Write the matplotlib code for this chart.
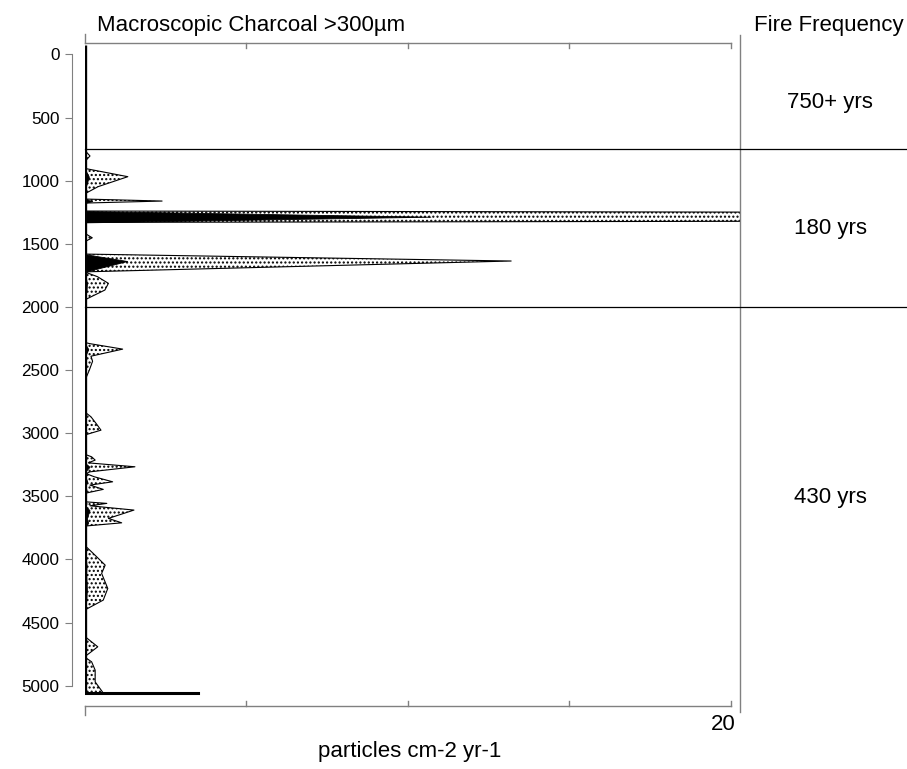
import numpy as np
import matplotlib.pyplot as plt
from matplotlib.transforms import blended_transform_factory

plt.rcParams['font.family'] = ['Liberation Sans', 'DejaVu Sans']

# sample depths (yr) and charcoal influx (particles cm-2 yr-1)
depth = [0, 757, 804, 851, 902, 968, 1047, 1105, 1145, 1161, 1177, 1240, 1285, 1330,
         1415, 1452, 1484, 1581, 1636, 1722, 1760, 1813, 1866, 1945,
         2280, 2290, 2334, 2390, 2430, 2500, 2590, 2830, 2870, 2930, 2976, 3015,
         3166, 3187, 3213, 3235, 3266, 3306, 3320, 3345, 3385, 3411, 3445, 3477,
         3543, 3556, 3575, 3609, 3675, 3710, 3736, 3887, 3950, 4045, 4111, 4230,
         4322, 4402, 4608, 4692, 4772, 4811, 4877, 4970, 5058]
charcoal = [0, 0, 0.017, 0, 0, 0.134, 0.042, 0, 0, 0.24, 0, 0, 10.7, 0,
            0, 0.024, 0, 0, 1.32, 0, 0.04, 0.074, 0.063, 0,
            0, 0.015, 0.118, 0.02, 0.025, 0.015, 0, 0, 0.02, 0.038, 0.051, 0,
            0, 0.022, 0.033, 0.012, 0.156, 0.017, 0.005, 0.03, 0.087, 0.017, 0.058, 0,
            0, 0.069, 0.017, 0.153, 0.074, 0.115, 0, 0, 0.026, 0.064, 0.053, 0.072,
            0.058, 0, 0, 0.041, 0, 0.022, 0.033, 0.033, 0.058]
base_depth = 5058
base_value = 3.5
exag = 10

zone_bounds = [750, 2000]
zone_labels = ["750+ yrs", "180 yrs", "430 yrs"]
zone_label_depths = [384, 1375, 3506]

x_ticks = [0, 5, 10, 15, 20]
y_ticks = list(range(0, 5001, 500))

grey = '#808080'
big = 16

fig = plt.figure(figsize=(9.07, 7.69), dpi=100)
ax = fig.add_axes([84.5 / 907, 63 / 769, (740 - 84.5) / 907, 663 / 769])
ax.set_xlim(0, 20.28)
ax.set_ylim(5161, -91)

d = np.array(depth)
v = np.array(charcoal)
ax.fill_betweenx(d, 0, v * exag, facecolor='white', edgecolor='black',
                 hatch='....', lw=0.8)
ax.fill_betweenx(d, 0, v, facecolor='black', edgecolor='black', lw=0.6)
ax.plot([0, base_value], [base_depth, base_depth], color='black', lw=2.2)
ax.plot([0, 0], [-75, base_depth], color='black', lw=2.4, solid_capstyle='butt')

# axes frame
for s in ['top', 'right', 'bottom']:
    ax.spines[s].set_visible(False)
ax.spines['left'].set_position(('outward', 9))
ax.spines['left'].set_bounds(0, 5000)
ax.spines['left'].set_color(grey)
ax.set_yticks(y_ticks)
ax.set_xticks([])
ax.tick_params(axis='y', length=5, color=grey, labelsize=12.3, pad=4)

# top and bottom scale bars
ax.plot([0, 20], [-91, -91], color=grey, lw=1, clip_on=False)
ax.plot([0, 20], [5161, 5161], color=grey, lw=1, clip_on=False)
for t in x_ticks[1:]:
    ax.plot([t, t], [-91, -51], color=grey, lw=1, clip_on=False)
    ax.plot([t, t], [5161, 5121], color=grey, lw=1, clip_on=False)
ax.plot([0, 0], [-91, -160], color=grey, lw=1, clip_on=False)
ax.plot([0, 0], [5161, 5235], color=grey, lw=1, clip_on=False)
ax.plot([20.28, 20.28], [-155, 5209], color=grey, lw=1, clip_on=False)
ax.text(19.75, 5305, str(x_ticks[-1]), ha='center', va='center', fontsize=big)

# fire frequency zones
tr = blended_transform_factory(fig.transFigure, ax.transData)
for b in zone_bounds:
    ax.plot([84.5 / 907, 1.0], [b, b], color='black', lw=0.9, transform=tr, clip_on=False)
for lab, y in zip(zone_labels, zone_label_depths):
    ax.text(830 / 907, y, lab, ha='center', va='center', fontsize=big, transform=tr)

fig.text(97 / 907, 1 - 25 / 769, "Macroscopic Charcoal >300µm", ha='left', va='center', fontsize=big)
fig.text(829 / 907, 1 - 25 / 769, "Fire Frequency", ha='center', va='center', fontsize=big)
fig.text(410 / 907, 1 - 752 / 769, "particles cm-2 yr-1", ha='center', va='center', fontsize=big)

fig.savefig('out.png', dpi=100)
